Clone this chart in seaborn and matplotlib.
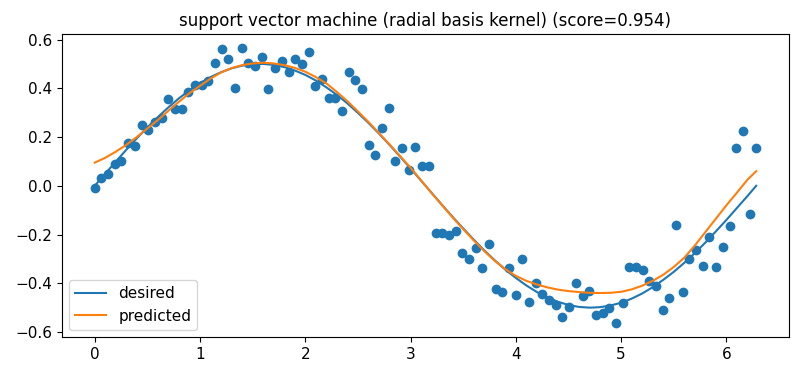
import matplotlib
matplotlib.use("Agg")
import matplotlib.pyplot as plt
import numpy as np
import seaborn as sns

# sample positions (100 evenly spaced points over one period)
x_points = np.linspace(0, 2 * np.pi, 100)

# noisy samples
y_points = [
    -0.01, 0.03, 0.05, 0.09, 0.10, 0.175, 0.165, 0.25, 0.23, 0.26,
    0.28, 0.355, 0.315, 0.315, 0.385, 0.415, 0.415, 0.43, 0.505, 0.56,
    0.52, 0.40, 0.565, 0.505, 0.49, 0.53, 0.397, 0.484, 0.51, 0.465,
    0.52, 0.50, 0.55, 0.41, 0.44, 0.36, 0.36, 0.306, 0.465, 0.433,
    0.397, 0.167, 0.128, 0.238, 0.32, 0.10, 0.156, 0.065, 0.16, 0.08,
    0.08, -0.195, -0.195, -0.20, -0.187, -0.275, -0.30, -0.255, -0.336, -0.24,
    -0.425, -0.435, -0.336, -0.45, -0.30, -0.478, -0.40, -0.443, -0.47, -0.49,
    -0.54, -0.497, -0.40, -0.454, -0.43, -0.53, -0.52, -0.50, -0.565, -0.48,
    -0.335, -0.335, -0.345, -0.39, -0.41, -0.51, -0.46, -0.16, -0.435, -0.30,
    -0.265, -0.33, -0.21, -0.335, -0.25, -0.165, 0.157, 0.223, -0.115, 0.157,
]

# curves, read every 0.1 along x
x_curve = [0.0, 0.1, 0.2, 0.3, 0.4, 0.5, 0.6, 0.7, 0.8, 0.9,
           1.0, 1.1, 1.2, 1.3, 1.4, 1.5, 1.6, 1.7, 1.8, 1.9,
           2.0, 2.1, 2.2, 2.3, 2.4, 2.5, 2.6, 2.7, 2.8, 2.9,
           3.0, 3.1, 3.2, 3.3, 3.4, 3.5, 3.6, 3.7, 3.8, 3.9,
           4.0, 4.1, 4.2, 4.3, 4.4, 4.5, 4.6, 4.7, 4.8, 4.9,
           5.0, 5.1, 5.2, 5.3, 5.4, 5.5, 5.6, 5.7, 5.8, 5.9,
           6.0, 6.1, 6.2, 6.283]
desired = [0.0, 0.050, 0.099, 0.148, 0.195, 0.240, 0.282, 0.322, 0.359, 0.392,
           0.421, 0.446, 0.466, 0.482, 0.493, 0.499, 0.500, 0.496, 0.487, 0.473,
           0.455, 0.432, 0.404, 0.373, 0.338, 0.299, 0.258, 0.214, 0.168, 0.120,
           0.071, 0.021, -0.029, -0.079, -0.128, -0.175, -0.221, -0.265, -0.306, -0.344,
           -0.378, -0.409, -0.436, -0.458, -0.476, -0.489, -0.497, -0.500, -0.498, -0.491,
           -0.480, -0.463, -0.442, -0.416, -0.386, -0.353, -0.316, -0.276, -0.233, -0.187,
           -0.140, -0.091, -0.042, 0.0]
predicted = [0.095, 0.115, 0.140, 0.168, 0.200, 0.235, 0.270, 0.308, 0.345, 0.380,
             0.410, 0.440, 0.465, 0.483, 0.495, 0.502, 0.505, 0.502, 0.495, 0.484,
             0.468, 0.446, 0.420, 0.385, 0.347, 0.305, 0.262, 0.216, 0.170, 0.122,
             0.074, 0.022, -0.030, -0.080, -0.130, -0.178, -0.224, -0.268, -0.308, -0.342,
             -0.370, -0.390, -0.405, -0.417, -0.426, -0.432, -0.436, -0.439, -0.440, -0.439,
             -0.435, -0.425, -0.410, -0.390, -0.365, -0.333, -0.295, -0.245, -0.190, -0.135,
             -0.080, -0.028, 0.025, 0.060]

title = "support vector machine (radial basis kernel) (score=0.954)"

fig, ax = plt.subplots(figsize=(8.05, 3.69), dpi=100)
fig.subplots_adjust(left=0.0766, right=0.9805, top=0.907, bottom=0.086)

sns.scatterplot(x=x_points, y=y_points, ax=ax, color="#1f77b4", s=36,
                edgecolor="#1f77b4", linewidth=1.0, zorder=1)
sns.lineplot(x=x_curve, y=desired, ax=ax, color="#1f77b4", lw=1.5,
             sort=False, estimator=None, label="desired")
sns.lineplot(x=x_curve, y=predicted, ax=ax, color="#ff7f0e", lw=1.5,
             sort=False, estimator=None, label="predicted")

ax.set_title(title, fontsize=12)
ax.set_xticks([0, 1, 2, 3, 4, 5, 6])
ax.set_yticks([-0.6, -0.4, -0.2, 0.0, 0.2, 0.4, 0.6])
ax.tick_params(labelsize=11)
ax.legend(loc="lower left", fontsize=11)

fig.savefig("out.png", dpi=100)
